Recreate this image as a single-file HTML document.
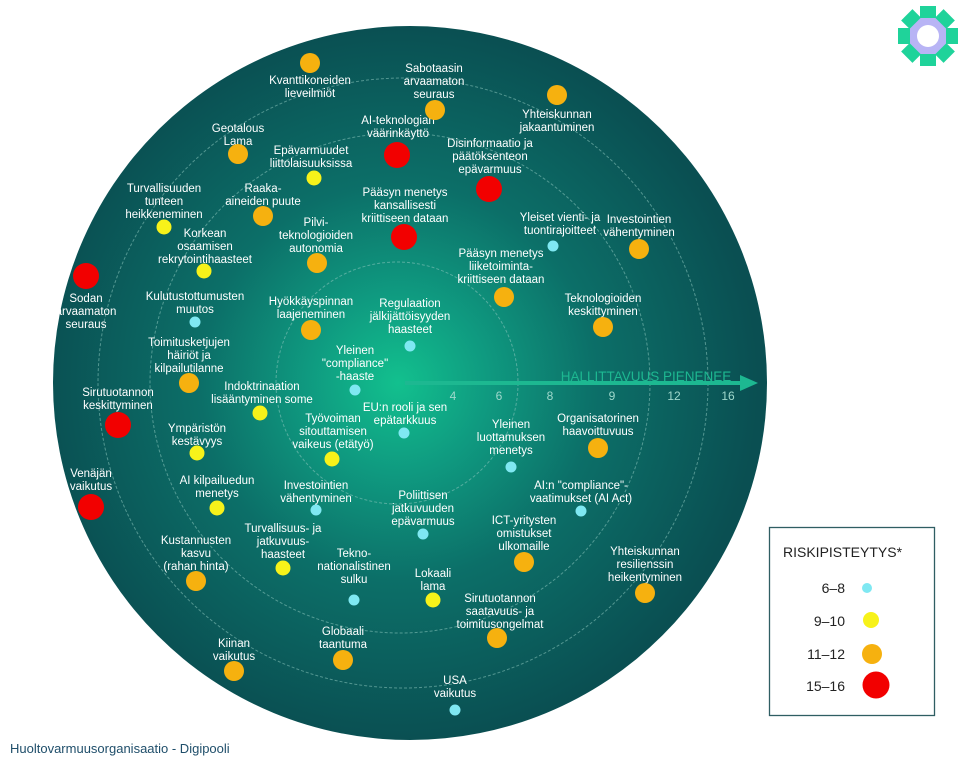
<!DOCTYPE html>
<html><head><meta charset="utf-8"><style>
html,body{margin:0;padding:0;background:#fff;}
svg{display:block;font-family:"Liberation Sans",sans-serif;}
.t{fill:#fff;font-size:11.5px;text-anchor:middle;}
.c{fill:#7fe8f2}.y{fill:#f7f21a}.o{fill:#f6b10f}.r{fill:#f20000}
</style></head><body>
<svg width="968" height="771" viewBox="0 0 968 771">
<defs>
<radialGradient id="g" gradientUnits="userSpaceOnUse" cx="398" cy="383" r="360">
<stop offset="0" stop-color="#12c08e"/>
<stop offset="0.25" stop-color="#0f9a80"/>
<stop offset="0.55" stop-color="#0c6f68"/>
<stop offset="1" stop-color="#0a4f52"/>
</radialGradient>
</defs>
<circle cx="410" cy="383" r="357" fill="url(#g)"/>
<g fill="none" stroke="#8fc8c0" stroke-opacity="0.55" stroke-width="1" stroke-dasharray="3,2">
<circle cx="397" cy="383" r="121"/>
<circle cx="400" cy="383" r="250"/>
<circle cx="403" cy="383" r="305"/>
</g>
<line x1="405" y1="383" x2="742" y2="383" stroke="#1db891" stroke-width="4"/>
<polygon points="740,375 758,383 740,391" fill="#1db891"/>
<text x="646" y="381" fill="#1db891" font-size="13.5" text-anchor="middle">HALLITTAVUUS PIENENEE</text>
<g fill="#9fd8cc" font-size="12" text-anchor="middle">
<text x="453" y="400">4</text><text x="499" y="400">6</text><text x="550" y="400">8</text>
<text x="612" y="400">9</text><text x="674" y="400">12</text><text x="728" y="400">16</text>
</g>
<g class="t">
<text x="310" y="84">Kvanttikoneiden<tspan x="310" dy="13">lieveilmiöt</tspan></text>
<text x="434" y="72">Sabotaasin<tspan x="434" dy="13">arvaamaton</tspan><tspan x="434" dy="13">seuraus</tspan></text>
<text x="557" y="118">Yhteiskunnan<tspan x="557" dy="13">jakaantuminen</tspan></text>
<text x="398" y="124">AI-teknologian<tspan x="398" dy="13">väärinkäyttö</tspan></text>
<text x="238" y="132">Geotalous<tspan x="238" dy="13">Lama</tspan></text>
<text x="311" y="154">Epävarmuudet<tspan x="311" dy="13">liittolaisuuksissa</tspan></text>
<text x="490" y="147">Disinformaatio ja<tspan x="490" dy="13">päätöksenteon</tspan><tspan x="490" dy="13">epävarmuus</tspan></text>
<text x="164" y="192">Turvallisuuden<tspan x="164" dy="13">tunteen</tspan><tspan x="164" dy="13">heikkeneminen</tspan></text>
<text x="263" y="192">Raaka-<tspan x="263" dy="13">aineiden puute</tspan></text>
<text x="405" y="196">Pääsyn menetys<tspan x="405" dy="13">kansallisesti</tspan><tspan x="405" dy="13">kriittiseen dataan</tspan></text>
<text x="560" y="221">Yleiset vienti- ja<tspan x="560" dy="13">tuontirajoitteet</tspan></text>
<text x="639" y="223">Investointien<tspan x="639" dy="13">vähentyminen</tspan></text>
<text x="316" y="226">Pilvi-<tspan x="316" dy="13">teknologioiden</tspan><tspan x="316" dy="13">autonomia</tspan></text>
<text x="205" y="237">Korkean<tspan x="205" dy="13">osaamisen</tspan><tspan x="205" dy="13">rekrytointihaasteet</tspan></text>
<text x="86" y="302">Sodan<tspan x="86" dy="13">arvaamaton</tspan><tspan x="86" dy="13">seuraus</tspan></text>
<text x="501" y="257">Pääsyn menetys<tspan x="501" dy="13">liiketoiminta-</tspan><tspan x="501" dy="13">kriittiseen dataan</tspan></text>
<text x="195" y="300">Kulutustottumusten<tspan x="195" dy="13">muutos</tspan></text>
<text x="603" y="302">Teknologioiden<tspan x="603" dy="13">keskittyminen</tspan></text>
<text x="311" y="305">Hyökkäyspinnan<tspan x="311" dy="13">laajeneminen</tspan></text>
<text x="410" y="307">Regulaation<tspan x="410" dy="13">jälkijättöisyyden</tspan><tspan x="410" dy="13">haasteet</tspan></text>
<text x="189" y="346">Toimitusketjujen<tspan x="189" dy="13">häiriöt ja</tspan><tspan x="189" dy="13">kilpailutilanne</tspan></text>
<text x="355" y="354">Yleinen<tspan x="355" dy="13">"compliance"</tspan><tspan x="355" dy="13">-haaste</tspan></text>
<text x="262" y="390">Indoktrinaation<tspan x="262" dy="13">lisääntyminen some</tspan></text>
<text x="118" y="396">Sirutuotannon<tspan x="118" dy="13">keskittyminen</tspan></text>
<text x="405" y="411">EU:n rooli ja sen<tspan x="405" dy="13">epätarkkuus</tspan></text>
<text x="333" y="422">Työvoiman<tspan x="333" dy="13">sitouttamisen</tspan><tspan x="333" dy="13">vaikeus (etätyö)</tspan></text>
<text x="511" y="428">Yleinen<tspan x="511" dy="13">luottamuksen</tspan><tspan x="511" dy="13">menetys</tspan></text>
<text x="598" y="422">Organisatorinen<tspan x="598" dy="13">haavoittuvuus</tspan></text>
<text x="197" y="432">Ympäristön<tspan x="197" dy="13">kestävyys</tspan></text>
<text x="91" y="477">Venäjän<tspan x="91" dy="13">vaikutus</tspan></text>
<text x="217" y="484">AI kilpailuedun<tspan x="217" dy="13">menetys</tspan></text>
<text x="316" y="489">Investointien<tspan x="316" dy="13">vähentyminen</tspan></text>
<text x="581" y="489">AI:n "compliance"-<tspan x="581" dy="13">vaatimukset (AI Act)</tspan></text>
<text x="423" y="499">Poliittisen<tspan x="423" dy="13">jatkuvuuden</tspan><tspan x="423" dy="13">epävarmuus</tspan></text>
<text x="524" y="524">ICT-yritysten<tspan x="524" dy="13">omistukset</tspan><tspan x="524" dy="13">ulkomaille</tspan></text>
<text x="196" y="544">Kustannusten<tspan x="196" dy="13">kasvu</tspan><tspan x="196" dy="13">(rahan hinta)</tspan></text>
<text x="283" y="532">Turvallisuus- ja<tspan x="283" dy="13">jatkuvuus-</tspan><tspan x="283" dy="13">haasteet</tspan></text>
<text x="354" y="557">Tekno-<tspan x="354" dy="13">nationalistinen</tspan><tspan x="354" dy="13">sulku</tspan></text>
<text x="433" y="577">Lokaali<tspan x="433" dy="13">lama</tspan></text>
<text x="645" y="555">Yhteiskunnan<tspan x="645" dy="13">resilienssin</tspan><tspan x="645" dy="13">heikentyminen</tspan></text>
<text x="500" y="602">Sirutuotannon<tspan x="500" dy="13">saatavuus- ja</tspan><tspan x="500" dy="13">toimitusongelmat</tspan></text>
<text x="234" y="647">Kiinan<tspan x="234" dy="13">vaikutus</tspan></text>
<text x="343" y="635">Globaali<tspan x="343" dy="13">taantuma</tspan></text>
<text x="455" y="684">USA<tspan x="455" dy="13">vaikutus</tspan></text>
</g>
<g>
<circle class="o" cx="310" cy="63" r="10"/>
<circle class="o" cx="435" cy="110" r="10"/>
<circle class="o" cx="557" cy="95" r="10"/>
<circle class="r" cx="397" cy="155" r="13"/>
<circle class="o" cx="238" cy="154" r="10"/>
<circle class="y" cx="314" cy="178" r="7.5"/>
<circle class="r" cx="489" cy="189" r="13"/>
<circle class="y" cx="164" cy="227" r="7.5"/>
<circle class="o" cx="263" cy="216" r="10"/>
<circle class="r" cx="404" cy="237" r="13"/>
<circle class="c" cx="553" cy="246" r="5.5"/>
<circle class="o" cx="639" cy="249" r="10"/>
<circle class="o" cx="317" cy="263" r="10"/>
<circle class="y" cx="204" cy="271" r="7.5"/>
<circle class="r" cx="86" cy="276" r="13"/>
<circle class="o" cx="504" cy="297" r="10"/>
<circle class="c" cx="195" cy="322" r="5.5"/>
<circle class="o" cx="603" cy="327" r="10"/>
<circle class="o" cx="311" cy="330" r="10"/>
<circle class="c" cx="410" cy="346" r="5.5"/>
<circle class="o" cx="189" cy="383" r="10"/>
<circle class="c" cx="355" cy="390" r="5.5"/>
<circle class="y" cx="260" cy="413" r="7.5"/>
<circle class="r" cx="118" cy="425" r="13"/>
<circle class="c" cx="404" cy="433" r="5.5"/>
<circle class="y" cx="332" cy="459" r="7.5"/>
<circle class="c" cx="511" cy="467" r="5.5"/>
<circle class="o" cx="598" cy="448" r="10"/>
<circle class="y" cx="197" cy="453" r="7.5"/>
<circle class="r" cx="91" cy="507" r="13"/>
<circle class="y" cx="217" cy="508" r="7.5"/>
<circle class="c" cx="316" cy="510" r="5.5"/>
<circle class="c" cx="581" cy="511" r="5.5"/>
<circle class="c" cx="423" cy="534" r="5.5"/>
<circle class="o" cx="524" cy="562" r="10"/>
<circle class="o" cx="196" cy="581" r="10"/>
<circle class="y" cx="283" cy="568" r="7.5"/>
<circle class="c" cx="354" cy="600" r="5.5"/>
<circle class="y" cx="433" cy="600" r="7.5"/>
<circle class="o" cx="645" cy="593" r="10"/>
<circle class="o" cx="497" cy="638" r="10"/>
<circle class="o" cx="234" cy="671" r="10"/>
<circle class="o" cx="343" cy="660" r="10"/>
<circle class="c" cx="455" cy="710" r="5.5"/>
</g>
<!-- legend -->
<rect x="769.5" y="527.5" width="165" height="188" fill="#fff" stroke="#2f5e63" stroke-width="1.3"/>
<text x="783" y="557" font-size="14" fill="#222">RISKIPISTEYTYS*</text>
<g font-size="14" fill="#222" text-anchor="end">
<text x="845" y="593">6–8</text>
<text x="845" y="626">9–10</text>
<text x="845" y="659">11–12</text>
<text x="845" y="691">15–16</text>
</g>
<circle class="c" cx="867" cy="588" r="5"/>
<circle class="y" cx="871" cy="620" r="8"/>
<circle class="o" cx="872" cy="654" r="10"/>
<circle class="r" cx="876" cy="685" r="13.5"/>
<text x="10" y="753" font-size="13" fill="#1f4e6a">Huoltovarmuusorganisaatio - Digipooli</text>
<!-- logo -->
<g transform="translate(928,36)">
<circle r="20" fill="#b8b4f5"/>
<circle r="11" fill="#fff"/>
<g fill="#1fd39a">
<path d="M-8,-30 h16 v12 h-16z" transform="rotate(0)"/>
<path d="M-8,-30 h16 v12 h-16z" transform="rotate(45)"/>
<path d="M-8,-30 h16 v12 h-16z" transform="rotate(90)"/>
<path d="M-8,-30 h16 v12 h-16z" transform="rotate(135)"/>
<path d="M-8,-30 h16 v12 h-16z" transform="rotate(180)"/>
<path d="M-8,-30 h16 v12 h-16z" transform="rotate(225)"/>
<path d="M-8,-30 h16 v12 h-16z" transform="rotate(270)"/>
<path d="M-8,-30 h16 v12 h-16z" transform="rotate(315)"/>
</g>
</g>
</svg>
</body></html>
